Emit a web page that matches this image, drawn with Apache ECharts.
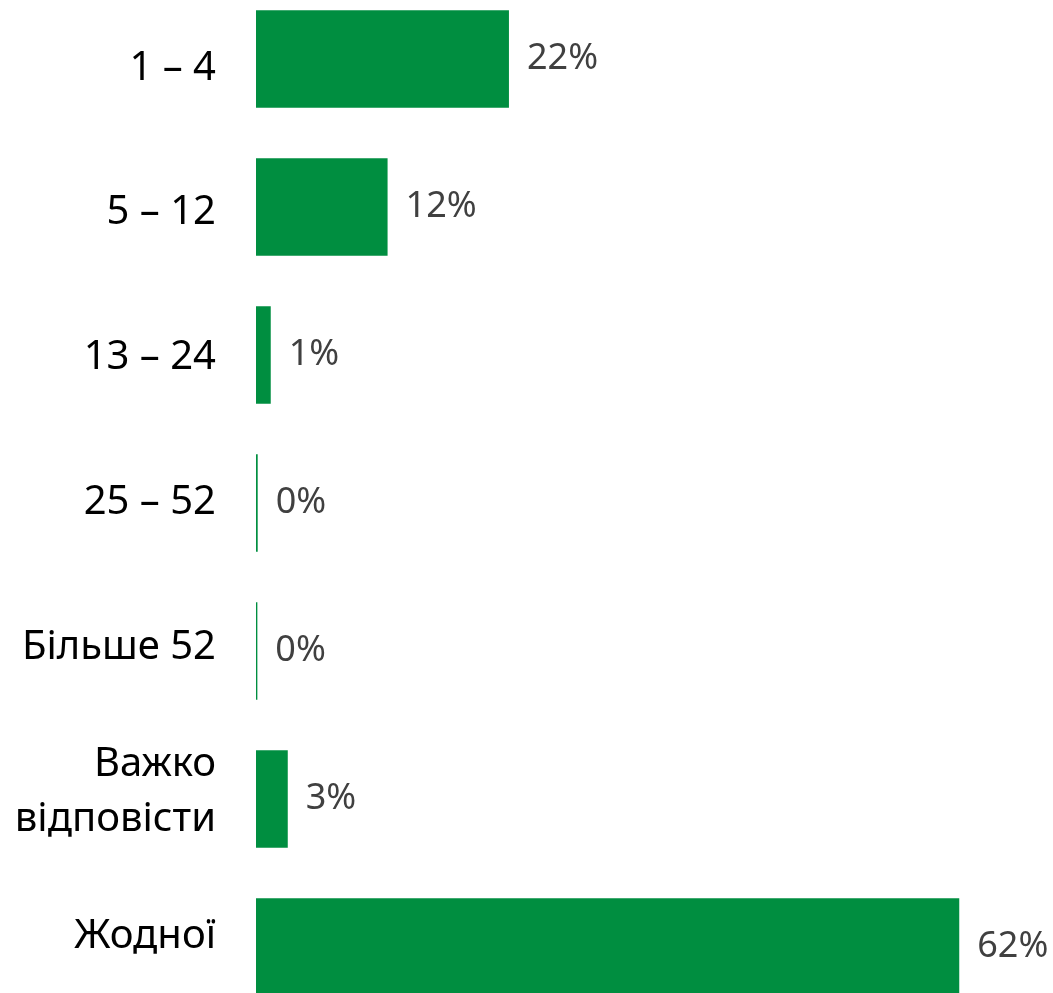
<!DOCTYPE html>
<html>
<head>
<meta charset="utf-8">
<script src="https://cdn.jsdelivr.net/npm/echarts@6/dist/echarts.min.js"></script>
<style>
  html, body { margin: 0; padding: 0; background: #fff; }
  #chart { width: 1053px; height: 993px; }
</style>
</head>
<body>
<div id="chart"></div>
<script>
// categories (top to bottom) and share of respondents, %
const categories = ["1 – 4", "5 – 12", "13 – 24", "25 – 52", "Більше 52", "Важко\nвідповісти", "Жодної"];
const shares = [22.3, 11.6, 1.3, 0.15, 0.12, 2.8, 62];

const GREEN = "#008E40";
const FONT = "Noto Sans";

const chart = echarts.init(document.getElementById("chart"), null, { renderer: "canvas" });

chart.setOption({
  animation: false,
  // grid 0 holds the bars, grid 1 only carries the category labels
  // (labels sit on a slightly tighter pitch than the bars, as in the source)
  grid: [
    { left: 256, right: 3, top: -15, bottom: -28, outerBoundsMode: "none" },
    { left: 256, right: 3, top: -4, bottom: -16, outerBoundsMode: "none" }
  ],
  xAxis: [
    { gridIndex: 0, type: "value", min: 0, max: 70, show: false },
    { gridIndex: 1, type: "value", min: 0, max: 70, show: false }
  ],
  yAxis: [
    {
      gridIndex: 0,
      type: "category",
      inverse: true,
      data: categories,
      axisLine: { show: false },
      axisTick: { show: false },
      axisLabel: { show: false }
    },
    {
      gridIndex: 1,
      type: "category",
      inverse: true,
      data: categories,
      axisLine: { show: false },
      axisTick: { show: false },
      axisLabel: {
        margin: 40,
        color: "#000",
        fontFamily: FONT,
        fontSize: 40,
        lineHeight: 55,
        align: "right"
      }
    }
  ],
  series: [
    {
      type: "bar",
      xAxisIndex: 0,
      yAxisIndex: 0,
      data: shares,
      barCategoryGap: "34%",
      itemStyle: { color: GREEN },
      label: {
        show: true,
        position: "right",
        distance: 18,
        color: "#404040",
        fontFamily: FONT,
        fontSize: 36,
        formatter: (p) => Math.round(p.value) + "%"
      }
    }
  ]
});
</script>
</body>
</html>
